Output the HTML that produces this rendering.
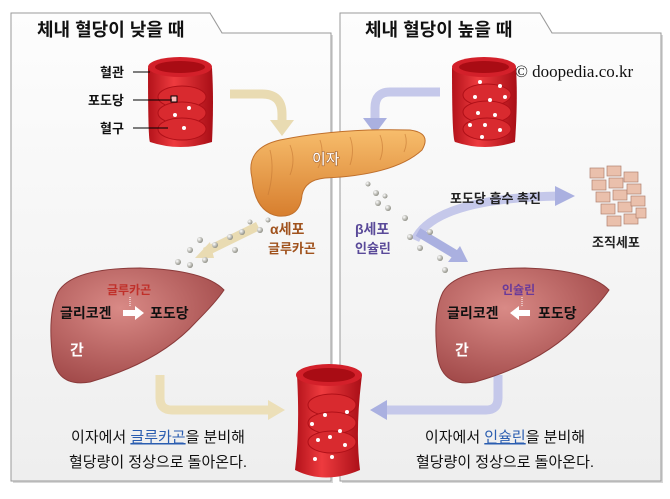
<!DOCTYPE html>
<html><head><meta charset="utf-8"><style>
html,body{margin:0;padding:0;background:#fff;width:670px;height:499px;overflow:hidden}
svg text{font-family:"Liberation Sans","Noto Sans CJK KR",sans-serif}
</style></head><body>
<svg width="670" height="499" viewBox="0 0 670 499" xmlns="http://www.w3.org/2000/svg">
<defs>
<linearGradient id="pg" x1="0" y1="0" x2="0" y2="1"><stop offset="0" stop-color="#fdfdfd"/><stop offset="1" stop-color="#eeeeee"/></linearGradient>
<linearGradient id="vg" x1="0" y1="0" x2="1" y2="0"><stop offset="0" stop-color="#b3121a"/><stop offset="0.4" stop-color="#ee3b3f"/><stop offset="1" stop-color="#a90e16"/></linearGradient>
<radialGradient id="lg" cx="0.4" cy="0.35" r="0.7"><stop offset="0" stop-color="#d98a86"/><stop offset="1" stop-color="#a24a4a"/></radialGradient>
<linearGradient id="pan" x1="0" y1="0" x2="0" y2="1"><stop offset="0" stop-color="#f7bd6c"/><stop offset="1" stop-color="#d77e2e"/></linearGradient>
<radialGradient id="dot" cx="0.35" cy="0.35" r="0.7"><stop offset="0" stop-color="#fff"/><stop offset="1" stop-color="#8a8a80"/></radialGradient>
</defs>
<!-- panels -->
<path d="M13,15 H212 L224,35 H333 V483 H13 Z" fill="#d8d8d8"/>
<path d="M342,15 H542 L554,35 H663 V483 H342 Z" fill="#d8d8d8"/>
<path d="M11,13 H210 L222,33 H331 V481 H11 Z" fill="url(#pg)" stroke="#9a9a9a" stroke-width="1"/>
<path d="M340,13 H540 L552,33 H661 V481 H340 Z" fill="url(#pg)" stroke="#9a9a9a" stroke-width="1"/>
<text x="37" y="36" font-size="18" font-weight="bold" fill="#111">체내 혈당이 낮을 때</text>
<text x="365" y="36" font-size="18" font-weight="bold" fill="#111">체내 혈당이 높을 때</text>
<text x="515" y="77" font-size="17" fill="#111" style="font-family:'Liberation Serif',serif">© doopedia.co.kr</text>

<!-- yellow arrows -->
<path d="M230,94 H262 Q282,94 282,114 V122" fill="none" stroke="#e9dbb2" stroke-width="9"/>
<polygon points="270,120 294,120 282,136" fill="#e9dbb2"/>
<path d="M258,226 L205,252" stroke="#e9dbb2" stroke-width="9"/>
<polygon points="195,258 210,242 214,258" fill="#e9dbb2"/>
<path d="M160,375 V398 Q160,410 172,410 H270" fill="none" stroke="#ecdfb8" stroke-width="9"/>
<polygon points="268,400 268,420 285,410" fill="#ecdfb8"/>
<!-- blue arrows -->
<path d="M440,92 H390 Q375,92 375,108 V120" fill="none" stroke="#c5c8ea" stroke-width="9"/>
<polygon points="363,118 387,118 375,134" fill="#aab0e0"/>
<path d="M498,375 V398 Q498,410 486,410 H385" fill="none" stroke="#c5c8ea" stroke-width="9"/>
<polygon points="387,400 387,420 370,410" fill="#aab0e0"/>
<path d="M415,240 Q435,198 560,196" fill="none" stroke="#c5c8ea" stroke-width="9"/>
<polygon points="555,186 555,206 575,196" fill="#aab0e0"/>
<path d="M418,232 Q440,245 458,256" fill="none" stroke="#aab0e0" stroke-width="9"/>
<polygon points="468,262 448,262 460,246" fill="#aab0e0"/>
<text x="450" y="203" font-size="13" font-weight="bold" fill="#222">포도당 흡수 촉진</text>

<!-- top-left vessel -->
<g>
<path d="M148,68 Q148,140 150,142 Q180,152 212,142 Q214,100 212,68 Z" fill="url(#vg)"/>
<ellipse cx="180" cy="67" rx="32" ry="10" fill="#d3202a"/>
<ellipse cx="180" cy="67" rx="25" ry="6" fill="#a90c14"/>
<ellipse cx="182" cy="97" rx="24" ry="11" fill="#d92a2f" stroke="#b01018"/>
<ellipse cx="182" cy="113" rx="24" ry="11" fill="#d92a2f" stroke="#b01018"/>
<ellipse cx="182" cy="129" rx="24" ry="11" fill="#d92a2f" stroke="#b01018"/>
<rect x="171" y="96" width="6" height="6" fill="#fbb" stroke="#000"/>
<circle cx="189" cy="108" r="2" fill="#fff"/><circle cx="175" cy="115" r="2" fill="#fff"/><circle cx="184" cy="128" r="2" fill="#fff"/>
</g>
<g font-size="13" font-weight="bold" fill="#111">
<text x="100" y="77">혈관</text><line x1="133" y1="72" x2="150" y2="72" stroke="#000"/>
<text x="88" y="105">포도당</text><line x1="133" y1="100" x2="172" y2="100" stroke="#000"/>
<text x="100" y="133">혈구</text><line x1="133" y1="128" x2="168" y2="128" stroke="#000"/>
</g>

<!-- top-right vessel -->
<g>
<path d="M452,68 Q452,140 455,142 Q485,152 515,142 Q518,100 516,68 Z" fill="url(#vg)"/>
<ellipse cx="484" cy="67" rx="32" ry="10" fill="#d3202a"/>
<ellipse cx="484" cy="67" rx="25" ry="6" fill="#a90c14"/>
<ellipse cx="487" cy="95" rx="24" ry="11" fill="#d92a2f" stroke="#b01018"/>
<ellipse cx="487" cy="112" rx="24" ry="11" fill="#d92a2f" stroke="#b01018"/>
<ellipse cx="487" cy="129" rx="24" ry="11" fill="#d92a2f" stroke="#b01018"/>
<g fill="#fff"><circle cx="480" cy="82" r="2"/><circle cx="500" cy="86" r="2"/><circle cx="475" cy="97" r="2"/><circle cx="490" cy="100" r="2"/><circle cx="505" cy="97" r="2"/><circle cx="478" cy="113" r="2"/><circle cx="495" cy="115" r="2"/><circle cx="485" cy="125" r="2"/><circle cx="500" cy="130" r="2"/><circle cx="482" cy="137" r="2"/><circle cx="470" cy="125" r="2"/></g>
</g>

<!-- pancreas -->
<path d="M252,178 Q245,148 280,140 Q340,128 410,130 Q432,133 422,150 Q395,175 325,178 Q305,180 302,195 Q300,218 278,216 Q255,212 252,178 Z" fill="url(#pan)" stroke="#c0702c"/>
<g stroke="#c77a36" stroke-width="1" fill="none" opacity="0.6">
<path d="M270,150 Q275,170 268,195"/><path d="M290,145 Q296,160 290,175"/><path d="M320,140 Q325,155 318,168"/><path d="M350,137 Q355,150 350,165"/><path d="M380,135 Q385,148 380,160"/><path d="M405,134 Q408,143 404,152"/>
</g>
<text x="312" y="164" font-size="15" font-weight="bold" fill="#fff" stroke="#a06030" stroke-width="0.6">이자</text>

<!-- dots -->
<g fill="url(#dot)">
<circle cx="260" cy="230" r="3"/><circle cx="250" cy="222" r="2.5"/><circle cx="268" cy="220" r="2.5"/><circle cx="242" cy="232" r="3"/><circle cx="230" cy="237" r="3"/><circle cx="215" cy="245" r="3"/><circle cx="200" cy="240" r="3"/><circle cx="190" cy="250" r="3"/><circle cx="178" cy="262" r="3"/><circle cx="190" cy="265" r="3"/><circle cx="205" cy="260" r="3"/><circle cx="235" cy="250" r="3"/>
<circle cx="368" cy="184" r="2.5"/><circle cx="376" cy="193" r="3"/><circle cx="385" cy="196" r="2.5"/><circle cx="378" cy="203" r="3"/><circle cx="388" cy="208" r="3"/><circle cx="405" cy="218" r="3"/><circle cx="410" cy="237" r="3"/><circle cx="430" cy="232" r="3"/><circle cx="420" cy="248" r="3"/><circle cx="440" cy="258" r="3"/><circle cx="445" cy="270" r="3"/>
</g>
<text x="270" y="234" font-size="14" font-weight="bold" fill="#a0521d">α세포</text>
<text x="268" y="253" font-size="13" font-weight="bold" fill="#a0521d">글루카곤</text>
<text x="355" y="234" font-size="14" font-weight="bold" fill="#5a4a99">β세포</text>
<text x="355" y="253" font-size="13" font-weight="bold" fill="#5a4a99">인슐린</text>

<!-- tissue cells -->
<g fill="#eac0ac" stroke="#b08070" stroke-width="0.7">
<rect x="590" y="168" width="14" height="10"/><rect x="592" y="180" width="14" height="10"/><rect x="596" y="192" width="14" height="10"/><rect x="601" y="204" width="14" height="10"/><rect x="607" y="216" width="14" height="10"/>
<rect x="607" y="166" width="14" height="10"/><rect x="609" y="178" width="14" height="10"/><rect x="613" y="190" width="14" height="10"/><rect x="618" y="202" width="14" height="10"/><rect x="624" y="214" width="14" height="10"/>
<rect x="624" y="172" width="14" height="10"/><rect x="627" y="184" width="14" height="10"/><rect x="631" y="196" width="14" height="10"/><rect x="636" y="208" width="10" height="10"/>
</g>
<text x="592" y="247" font-size="13" font-weight="bold" fill="#222">조직세포</text>

<!-- livers -->
<path d="M58,292 Q72,268 140,268 Q205,270 224,290 Q216,302 196,322 Q160,362 90,382 Q55,388 52,352 Q48,312 58,292 Z" fill="url(#lg)" stroke="#8a3a3a"/>
<text x="107" y="294" font-size="12" font-weight="bold" fill="#c0302a">글루카곤</text>
<line x1="130" y1="297" x2="130" y2="306" stroke="#fff" stroke-dasharray="1,1"/>
<text x="60" y="318" font-size="14" font-weight="bold" fill="#111">글리코겐</text>
<polygon points="123,310 135,310 135,306 144,313 135,320 135,316 123,316" fill="#fff"/>
<text x="150" y="318" font-size="14" font-weight="bold" fill="#111">포도당</text>
<text x="70" y="355" font-size="15" font-weight="bold" fill="#fff">간</text>

<path d="M443,292 Q457,268 525,268 Q590,270 609,290 Q601,302 581,322 Q545,362 475,382 Q440,388 437,352 Q433,312 443,292 Z" fill="url(#lg)" stroke="#8a3a3a"/>
<text x="502" y="294" font-size="12" font-weight="bold" fill="#6a3a99">인슐린</text>
<line x1="522" y1="297" x2="522" y2="306" stroke="#fff" stroke-dasharray="1,1"/>
<text x="447" y="318" font-size="14" font-weight="bold" fill="#111">글리코겐</text>
<polygon points="530,310 519,310 519,306 510,313 519,320 519,316 530,316" fill="#fff"/>
<text x="538" y="318" font-size="14" font-weight="bold" fill="#111">포도당</text>
<text x="455" y="355" font-size="15" font-weight="bold" fill="#fff">간</text>

<!-- center vessel -->
<g>
<path d="M297,375 Q300,430 295,470 Q325,485 360,470 Q355,430 362,375 Z" fill="url(#vg)"/>
<ellipse cx="329" cy="375" rx="33" ry="11" fill="#d3202a"/>
<ellipse cx="329" cy="375" rx="26" ry="7" fill="#a90c14"/>
<ellipse cx="332" cy="405" rx="24" ry="11" fill="#d92a2f" stroke="#b01018"/>
<ellipse cx="332" cy="423" rx="24" ry="11" fill="#d92a2f" stroke="#b01018"/>
<ellipse cx="332" cy="442" rx="24" ry="11" fill="#d92a2f" stroke="#b01018"/>
<g fill="#fff"><circle cx="330" cy="437" r="2"/><circle cx="312" cy="424" r="2"/><circle cx="340" cy="431" r="2"/><circle cx="318" cy="440" r="2"/><circle cx="345" cy="445" r="2"/><circle cx="315" cy="459" r="2"/><circle cx="332" cy="457" r="2"/><circle cx="325" cy="415" r="2"/><circle cx="347" cy="412" r="2"/></g>
</g>

<!-- bottom text -->
<g font-size="15" fill="#111" text-anchor="middle">
<text x="158" y="442">이자에서 <tspan fill="#2a5db0" text-decoration="underline">글루카곤</tspan>을 분비해</text>
<text x="158" y="467">혈당량이 정상으로 돌아온다.</text>
<text x="505" y="442">이자에서 <tspan fill="#2a5db0" text-decoration="underline">인슐린</tspan>을 분비해</text>
<text x="505" y="467">혈당량이 정상으로 돌아온다.</text>
</g>
</svg>
</body></html>
